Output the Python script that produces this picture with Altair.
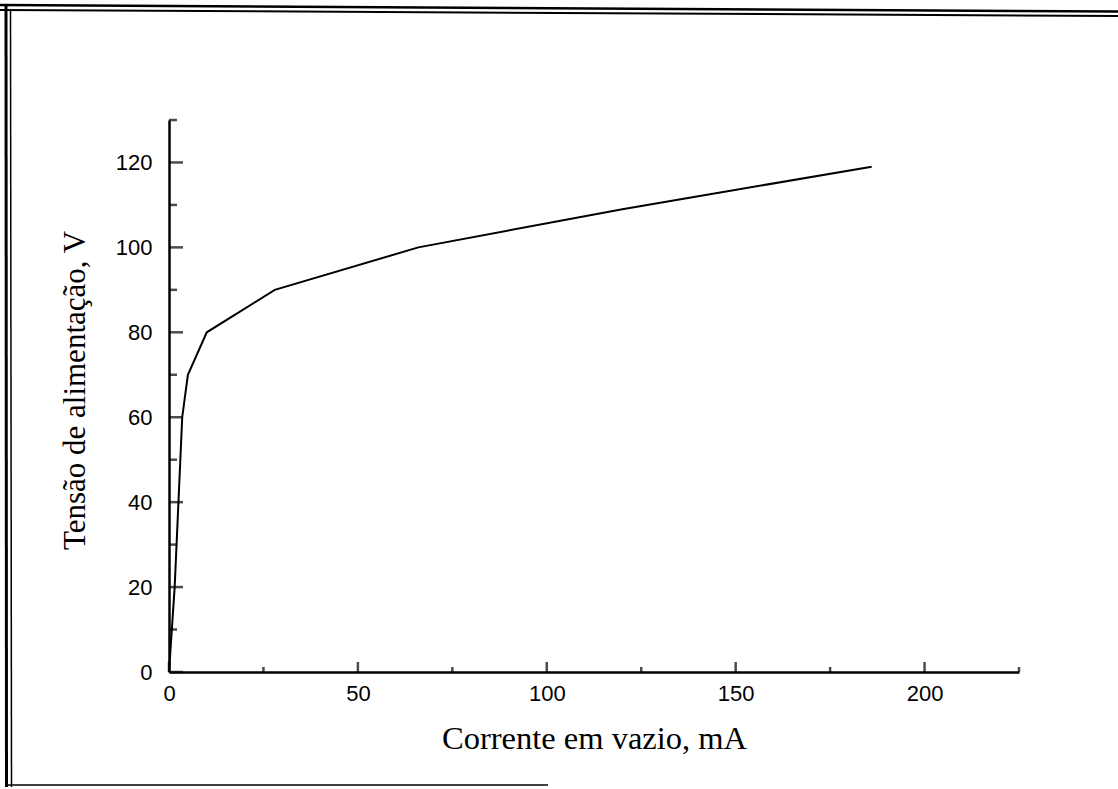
import altair as alt
import pandas as pd

# No-load current (mA) versus supply voltage (V)
current_ma = [0, 1.5, 2.5, 3.5, 5, 10, 28, 66, 120, 186]
voltage_v = [0, 20, 40, 60, 70, 80, 90, 100, 109, 119]

# Axis tick positions
x_major = [0, 50, 100, 150, 200]
x_minor = [25, 75, 125, 175, 225]
y_major = [0, 20, 40, 60, 80, 100, 120]
y_minor = [10, 30, 50, 70, 90, 110, 130]

X_DOMAIN = [0, 225]
Y_DOMAIN = [0, 130]
PLOT_W = 850
PLOT_H = 552
LEFT = 169
TOP = 120

curve = pd.DataFrame({"corrente": current_ma, "tensao": voltage_v})

xs = alt.Scale(domain=X_DOMAIN, nice=False, zero=False)
ys = alt.Scale(domain=Y_DOMAIN, nice=False, zero=False)

# One axis definition per channel, shared by every layer so the merge keeps it
x_axis = alt.Axis(
    title="Corrente em vazio, mA",
    values=x_major,
    ticks=False,
    grid=False,
    domainColor="black",
    domainWidth=2.5,
    labelFont="Liberation Sans",
    labelFontSize=22,
    labelColor="black",
    labelPadding=11,
    labelFlush=False,
    titleFont="Liberation Serif",
    titleFontSize=32.5,
    titleFontWeight="normal",
    titleColor="black",
    titleBaseline="alphabetic",
    titleY=76,
)
y_axis = alt.Axis(
    title="Tensão de alimentação, V",
    values=y_major,
    ticks=False,
    grid=False,
    domainColor="black",
    domainWidth=2.5,
    labelFont="Liberation Sans",
    labelFontSize=22,
    labelColor="black",
    labelPadding=17,
    labelFlush=False,
    titleFont="Liberation Serif",
    titleFontSize=31,
    titleFontWeight="normal",
    titleColor="black",
    titleBaseline="alphabetic",
    titleX=-85,
    titleY=270,
    titleAngle=270,
)

line = alt.Chart(curve).mark_line(color="black", strokeWidth=2).encode(
    x=alt.X("corrente:Q", scale=xs, axis=x_axis),
    y=alt.Y("tensao:Q", scale=ys, axis=y_axis),
)


def xticks(vals, size):
    # inward (upward) ticks on the current axis
    df = pd.DataFrame({"corrente": vals})
    return alt.Chart(df).mark_tick(
        orient="vertical", size=size, thickness=2.5, color="black", yOffset=-size / 2
    ).encode(
        x=alt.X("corrente:Q", scale=xs, axis=x_axis),
        y=alt.datum(0, scale=ys, axis=y_axis),
    )


def yticks(vals, size):
    # inward (rightward) ticks on the voltage axis
    df = pd.DataFrame({"tensao": vals})
    return alt.Chart(df).mark_tick(
        orient="horizontal", size=size, thickness=2.5, color="black", xOffset=size / 2
    ).encode(
        y=alt.Y("tensao:Q", scale=ys, axis=y_axis),
        x=alt.datum(0, scale=xs, axis=x_axis),
    )


# Scanned page frame: double rule along top and left, single rule at bottom
# (x1, y1, x2, y2, width) in page pixels
frame_segments = [
    (0, 5, 1118, 11.5, 2.5),
    (0, 10, 1118, 16, 2),
    (6, 4, 6.5, 787, 3),
    (10.5, 9, 11.5, 787, 1.5),
    (6, 785, 548, 785, 1.5),
]


def frame_rule(x1, y1, x2, y2, w):
    return alt.Chart(pd.DataFrame({"k": [0]})).mark_rule(
        color="black", strokeWidth=w
    ).encode(
        x=alt.value(x1 - LEFT),
        x2=alt.value(x2 - LEFT),
        y=alt.value(y1 - TOP),
        y2=alt.value(y2 - TOP),
    )


layers = [line, xticks(x_major, 10), xticks(x_minor, 5), yticks(y_major, 14), yticks(y_minor, 8)]
layers += [frame_rule(*seg) for seg in frame_segments]

chart = (
    alt.layer(*layers)
    .properties(
        width=PLOT_W,
        height=PLOT_H,
        autosize=alt.AutoSizeParams(type="none"),
        padding={"left": LEFT, "top": TOP, "right": 1118 - LEFT - PLOT_W, "bottom": 789 - TOP - PLOT_H},
        background="white",
    )
    .configure_view(stroke=None)
)

chart.save("out.html", embed_options={"renderer": "svg", "actions": False})
